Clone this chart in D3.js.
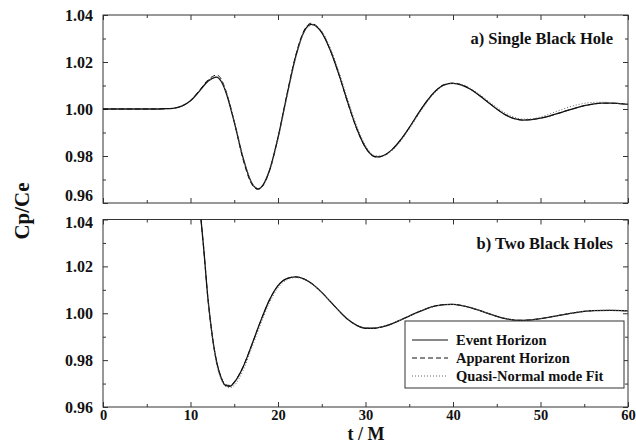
<!DOCTYPE html>
<html>
<head>
<meta charset="utf-8">
<script src="https://cdn.jsdelivr.net/npm/d3@7"></script>
<style>
  body { margin: 0; background: #fff; }
  text { font-family: "Liberation Serif", "Times New Roman", Times, serif; font-weight: bold; fill: #111; }
</style>
</head>
<body>
<svg id="chart" width="636" height="444"></svg>
<script>
//a) Single black hole
var tSingle = [0,2,4,6,7,8,9,10,11,12,12.5,13,13.5,14,15,16,17,17.7,18,19,20,21,22,23,23.8,24,25,26,27,28,29,30,31,31.3,32,33,34,35,36,37,38,39,40,41,42,43,44,45,46,47,48,49,50,51,52,53,54,55,56,57,58,59,60];
var eventSingle = [1.000,1.000,1.000,1.000,1.0001,1.0003,1.0012,1.0035,1.0075,1.0118,1.0130,1.0136,1.0118,1.0077,0.9944,0.9793,0.9685,0.9660,0.9664,0.9736,0.9878,1.0055,1.0220,1.0331,1.0360,1.0359,1.0325,1.0248,1.0143,1.0025,0.9917,0.9837,0.9798,0.9796,0.9801,0.9826,0.9868,0.9921,0.9979,1.0033,1.0077,1.0103,1.0109,1.0102,1.0084,1.0058,1.0029,1.0000,0.9975,0.9959,0.9953,0.9955,0.9961,0.9970,0.9981,0.9993,1.0004,1.0014,1.0021,1.0025,1.0025,1.0023,1.0020];
var apparentSingle = [1.000,1.000,1.000,1.000,1.0001,1.0003,1.0012,1.0036,1.0078,1.0124,1.0138,1.0145,1.0128,1.0082,0.9946,0.9786,0.9680,0.9658,0.9662,0.9734,0.9878,1.0058,1.0225,1.0336,1.0365,1.0363,1.0327,1.0248,1.0142,1.0023,0.9915,0.9835,0.9797,0.9795,0.9800,0.9826,0.9868,0.9921,0.9979,1.0033,1.0077,1.0104,1.0110,1.0103,1.0085,1.0058,1.0029,1.0000,0.9975,0.9959,0.9953,0.9955,0.9961,0.9970,0.9981,0.9993,1.0004,1.0014,1.0021,1.0025,1.0025,1.0023,1.0020];
var tFitSingle = [12,13,14,15,16,17,17.7,18,19,20,21,22,23,24,25,26,27,28,29,30,31,32,33,34,35,36,37,38,39,40,41,42,43,44,45,46,47,48,49,50,51,52,53,54,55,56,57,58,59,60];
var fitSingle = [1.0115,1.0138,1.0082,0.9950,0.9797,0.9687,0.9660,0.9663,0.9730,0.9870,1.0045,1.0212,1.0327,1.0358,1.0332,1.0258,1.0155,1.0038,0.9928,0.9845,0.9802,0.9800,0.9822,0.9862,0.9915,0.9972,1.0027,1.0072,1.0100,1.0110,1.0105,1.0088,1.0063,1.0035,1.0007,0.9983,0.9965,0.9957,0.9958,0.9966,0.9978,0.9992,1.0005,1.0016,1.0024,1.0028,1.0029,1.0027,1.0024,1.0020];

//b) Two black holes
var tTwo = [11.2,11.5,12,12.5,13,13.5,14,14.5,15,16,17,18,19,20,21,22,23,24,25,26,27,28,29,30,31,32,33,34,35,36,37,38,39,40,41,42,43,44,45,46,47,48,49,50,52,54,56,58,60];
var eventTwo = [1.040,1.028,1.006,0.990,0.979,0.9725,0.9692,0.9688,0.9705,0.9770,0.9865,0.9965,1.0055,1.0118,1.0148,1.0155,1.0146,1.0123,1.0089,1.0049,1.0009,0.9973,0.9948,0.9936,0.9936,0.9943,0.9955,0.9971,0.9988,1.0005,1.0020,1.0031,1.0037,1.0038,1.0033,1.0024,1.0012,0.9999,0.9987,0.9977,0.9971,0.9970,0.9972,0.9977,0.9990,1.0003,1.0011,1.0012,1.0010];
var apparentTwo = [1.040,1.028,1.006,0.990,0.979,0.9727,0.9695,0.9692,0.9707,0.9771,0.9865,0.9965,1.0055,1.0118,1.0148,1.0155,1.0146,1.0123,1.0089,1.0049,1.0009,0.9973,0.9948,0.9936,0.9936,0.9943,0.9955,0.9971,0.9988,1.0005,1.0020,1.0031,1.0037,1.0038,1.0033,1.0024,1.0012,0.9999,0.9987,0.9977,0.9971,0.9970,0.9972,0.9977,0.9990,1.0003,1.0011,1.0012,1.0010];
var tFitTwo = [12,12.5,13,13.5,14,14.5,15,16,17,18,19,20,21,22,23,24,25,26,27,28,29,30,31,32,33,34,35,36,37,38,39,40,41,42,43,44,45,46,47,48,49,50,52,54,56,58,60];
var fitTwo = [1.005,0.9895,0.978,0.9718,0.9688,0.9682,0.9692,0.9755,0.9852,0.9952,1.0042,1.0108,1.0142,1.0152,1.0146,1.0122,1.0088,1.0049,1.0010,0.9976,0.9951,0.9938,0.9937,0.9944,0.9956,0.9971,0.9988,1.0004,1.0019,1.0030,1.0036,1.0038,1.0034,1.0025,1.0013,1.0000,0.9988,0.9978,0.9972,0.9970,0.9972,0.9977,0.9991,1.0004,1.0012,1.0013,1.0011];

//tick values
var xMajor = [0,10,20,30,40,50,60];
var xMinor = [5,15,25,35,45,55];
var yMajor = [0.96,0.98,1.00,1.02,1.04];
var yMinor = [0.97,0.99,1.01,1.03];

var legendLabels = ["Event Horizon","Apparent Horizon","Quasi-Normal mode Fit"];
var dashes = [null,"5,3","1,2"];

var svg = d3.select("#chart");
var x = d3.scaleLinear().domain([0,60]).range([103,628]);

//Draw one panel with frame, inward ticks on every side and the three curves
function drawPanel(top, bottom, label, tEv, ev, ap, tFit, fit, id){
    var y = d3.scaleLinear().domain([0.96,1.04]).range([bottom,top]);
    var g = svg.append("g");

    g.append("clipPath").attr("id", id).append("rect")
        .attr("x",103).attr("y",top).attr("width",525).attr("height",bottom-top);

    //bottom axis with labels only on the lower panel
    var bAx = g.append("g").attr("transform","translate(0," + bottom + ")")
        .call(d3.axisBottom(x).tickValues(xMajor).tickSizeInner(-5).tickSizeOuter(0).tickPadding(3)
            .tickFormat(id == "clipB" ? d3.format("d") : ""));
    g.append("g").attr("transform","translate(0," + bottom + ")")
        .call(d3.axisBottom(x).tickValues(xMinor).tickSize(-3).tickFormat(""));
    g.append("g").attr("transform","translate(0," + top + ")")
        .call(d3.axisTop(x).tickValues(xMajor).tickSize(-5).tickFormat(""));
    g.append("g").attr("transform","translate(0," + top + ")")
        .call(d3.axisTop(x).tickValues(xMinor).tickSize(-3).tickFormat(""));

    var lAx = g.append("g").attr("transform","translate(103,0)")
        .call(d3.axisLeft(y).tickValues(yMajor).tickSizeInner(-5).tickSizeOuter(0).tickPadding(10).tickFormat(d3.format(".2f")));
    g.append("g").attr("transform","translate(103,0)")
        .call(d3.axisLeft(y).tickValues(yMinor).tickSize(-3).tickFormat(""));
    g.append("g").attr("transform","translate(628,0)")
        .call(d3.axisRight(y).tickValues(yMajor).tickSize(-5).tickFormat(""));
    g.append("g").attr("transform","translate(628,0)")
        .call(d3.axisRight(y).tickValues(yMinor).tickSize(-3).tickFormat(""));

    g.selectAll(".domain").remove();
    g.selectAll(".tick line").attr("stroke","#333");
    g.selectAll(".tick text").style("font-size","16px").attr("fill","#111");
    bAx.selectAll(".tick text").style("font-size","14.5px");

    //keep neighbouring labels apart where the two panels meet
    lAx.selectAll(".tick text").attr("dy", function(d){
        if (id == "clipA" && d == 0.96) return "-0.15em";
        if (id == "clipB" && d == 1.04) return "0.5em";
        return "0.32em";
    });

    g.append("rect").attr("x",103).attr("y",top).attr("width",525).attr("height",bottom-top)
        .attr("fill","none").attr("stroke","#333").attr("stroke-width",1);

    var line = d3.line().x(function(d){return x(d[0]);}).y(function(d){return y(d[1]);}).curve(d3.curveMonotoneX);
    var curves = [d3.zip(tEv, ev), d3.zip(tEv, ap), d3.zip(tFit, fit)];
    curves.forEach(function(c, i){
        g.append("path").datum(c)
            .attr("d", line)
            .attr("clip-path","url(#" + id + ")")
            .attr("fill","none")
            .attr("stroke", i == 2 ? "#666" : "#111")
            .attr("stroke-width", i == 0 ? 1.3 : 1)
            .attr("stroke-dasharray", dashes[i]);
    });

    g.append("text").attr("x",613).attr("y",top+29).attr("text-anchor","end")
        .style("font-size","16.5px").text(label);
}

drawPanel(15, 203, "a) Single Black Hole", tSingle, eventSingle, apparentSingle, tFitSingle, fitSingle, "clipA");
drawPanel(219.5, 407, "b) Two Black Holes", tTwo, eventTwo, apparentTwo, tFitTwo, fitTwo, "clipB");

//legend box in the lower panel
var leg = svg.append("g");
leg.append("rect").attr("x",405).attr("y",321).attr("width",219).attr("height",67)
    .attr("fill","#fff").attr("stroke","#333").attr("stroke-width",1);
legendLabels.forEach(function(name, i){
    var yy = 340 + i*18;
    leg.append("line").attr("x1",412).attr("x2",448).attr("y1",yy).attr("y2",yy)
        .attr("stroke", i == 2 ? "#666" : "#111").attr("stroke-width",1)
        .attr("stroke-dasharray", dashes[i]);
    leg.append("text").attr("x",456).attr("y",yy+5).style("font-size","14.5px").text(name);
});

//axis titles
svg.append("text").attr("x",366).attr("y",440).attr("text-anchor","middle")
    .style("font-size","18px").text("t / M");
svg.append("text").attr("transform","translate(29,211) rotate(-90)").attr("text-anchor","middle")
    .style("font-size","21px").text("Cp/Ce");
</script>
</body>
</html>
